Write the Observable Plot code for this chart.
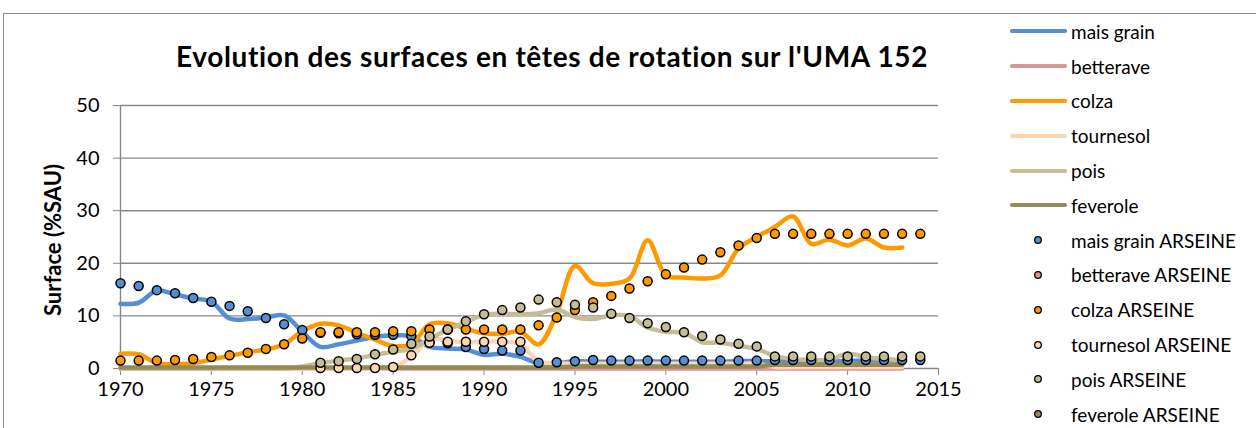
<!DOCTYPE html>
<html><head><meta charset="utf-8">
<script src="https://cdn.jsdelivr.net/npm/d3@7"></script>
<script src="https://cdn.jsdelivr.net/npm/@observablehq/plot@0.6"></script>
<style>
body{margin:0;background:#fff;font-family:Lato,sans-serif;}
#wrap{position:relative;width:1256px;height:428px;overflow:hidden;background:#fff;}
#frame{position:absolute;left:3px;top:13px;width:1400px;height:600px;border-left:1.5px solid #888;border-top:1.5px solid #888;}
#chart{position:absolute;left:0;top:0;}
#title{position:absolute;left:0;width:1104px;top:42px;text-align:center;font-weight:bold;font-size:28px;letter-spacing:0.65px;line-height:1;color:#000;white-space:nowrap;}
#ylab{position:absolute;left:-97px;top:228px;width:300px;height:24px;line-height:24px;text-align:center;font-weight:bold;font-size:22px;transform:rotate(-90deg);color:#000;}
#legend{position:absolute;left:1008px;top:14px;}
.row{display:flex;align-items:center;height:34.8px;font-size:19px;color:#000;white-space:nowrap;}
.row svg{margin-right:3px;}
</style>
</head><body>
<div id="wrap">
  <div id="frame"></div>
  <div id="chart"></div>
  <div id="title">Evolution des surfaces en têtes de rotation sur l'UMA 152</div>
  <div id="ylab">Surface (%SAU)</div>
  <div id="legend"></div>
</div>
<script>
// ---- data ----
const years = [1970,1971,1972,1973,1974,1975,1976,1977,1978,1979,
               1980,1981,1982,1983,1984,1985,1986,1987,1988,1989,
               1990,1991,1992,1993,1994,1995,1996,1997,1998,1999,
               2000,2001,2002,2003,2004,2005,2006,2007,2008,2009,
               2010,2011,2012,2013,2014];
const xTicks = [1970,1975,1980,1985,1990,1995,2000,2005,2010,2015];
const yTicks = [0,10,20,30,40,50];

const seriesNames = ["mais grain","betterave","colza","tournesol","pois","feverole"];
const seriesColors = ["#558ED5","#D99694","#FF9900","#FCD5B5","#C4BD97","#948A54"];

// observed lines (1970-2013)
const maisGrain = [12.3,12.5,14.8,14.1,13.3,12.7,9.5,9.4,9.7,10.1,
                   7.0,4.1,4.6,5.3,6.0,6.3,6.1,4.1,3.8,3.6,
                   2.6,2.8,2.2,1.0,1.0,1.4,1.3,1.3,1.3,1.4,
                   1.3,1.3,1.3,1.3,1.4,1.4,1.4,1.4,1.4,1.4,
                   1.4,1.5,1.5,1.5];
const betterave = [0,0,0,0,0,0,0,0,0,0, 0,0,0,0,0,0,0,0,0,0,
                   0,0,0,0,0,0,0,0,0,0, 0,0,0,0,0,0,0,0,0,0, 0,0,0,0];
const colza = [2.8,2.7,1.0,0.8,1.0,1.7,2.4,3.1,3.6,4.6,
               7.1,8.5,8.2,6.8,5.5,4.3,4.6,8.4,8.6,7.6,
               6.7,6.6,7.0,4.6,10.5,19.5,16.2,16.1,17.1,24.4,
               17.7,17.3,17.1,17.7,22.8,25.0,26.9,28.9,23.7,24.5,
               23.4,24.7,23.0,23.0];
const tournesol = [0,0,0,0,0,0,0,0,0,0,
                   0,0,0,0,0,0.3,2.2,5.6,5.3,5.0,
                   5.1,5.1,4.6,1.3,1.0,0.9,0.9,0.9,0.9,0.9,
                   0.9,0.9,0.9,0.9,0.9,0.9,0.3,0.3,0.3,0.3,
                   0.3,0.3,0.3,0.3];
const pois = [0,0,0,0,0,0,0,0,0,0,
              0.4,1.0,1.5,1.9,2.6,3.2,3.8,5.6,7.4,8.8,
              10.2,10.4,10.3,10.5,11.2,9.8,9.4,10.1,10.0,7.8,
              7.0,6.8,5.0,4.9,4.3,3.7,2.4,1.8,1.6,1.7,
              2.8,2.2,1.8,1.6];
const feverole = [0.2,0.2,0.2,0.2,0.2,0.2,0.2,0.2,0.2,0.2,
                  0.2,0.2,0.2,0.2,0.2,0.2,0.2,0.2,0.2,0.2,
                  0.2,0.2,0.2,0.2,0.2,0.4,0.4,0.4,0.4,0.4,
                  0.4,0.4,0.4,0.4,0.4,0.4,0.7,0.7,0.7,0.7,
                  0.7,0.7,0.7,0.7];

// ARSEINE simulated points (1970-2014)
const maisGrainA = [16.2,15.7,14.9,14.3,13.4,12.7,11.9,10.9,9.6,8.4,
                    7.3,6.8,6.7,6.5,6.4,6.4,6.2,5.0,4.8,4.1,
                    3.7,3.4,3.4,1.1,1.2,1.4,1.6,1.5,1.5,1.5,
                    1.5,1.5,1.5,1.5,1.5,1.5,1.6,1.6,1.6,1.6,
                    1.6,1.6,1.6,1.6,1.6];
const betteraveA = [];
const colzaA = [1.5,1.5,1.5,1.6,1.8,2.2,2.5,3.0,3.7,4.6,
                5.7,6.9,6.9,6.9,6.9,7.1,7.1,7.4,7.4,7.4,
                7.4,7.4,7.4,8.2,9.7,11.1,12.6,13.8,15.2,16.6,
                17.9,19.2,20.7,22.1,23.4,24.8,25.6,25.6,25.6,25.6,
                25.6,25.6,25.6,25.6,25.6];
const tournesolA = [null,null,null,null,null,null,null,null,null,null,
                    null,0.1,0.1,0.1,0.1,0.3,2.5,4.9,5.1,5.1,
                    5.1,5.1,5.1];
const poisA = [null,null,null,null,null,null,null,null,null,null,
               null,1.1,1.4,1.8,2.7,3.6,4.7,6.1,7.4,9.0,
               10.3,11.1,11.6,13.1,12.6,12.1,11.6,10.4,9.6,8.6,
               7.9,6.9,6.2,5.5,4.7,4.2,2.3,2.3,2.3,2.3,
               2.3,2.3,2.3,2.3,2.3];
const feveroleA = [];

// ---- build ----
const lineSeries = [maisGrain, betterave, colza, tournesol, pois, feverole];
const dotSeries = [maisGrainA, betteraveA, colzaA, tournesolA, poisA, feveroleA];
const toRows = arr => arr.map((v,i)=>({year: years[i], value: v})).filter(d => d.value != null);

const gray = "#878787";
const marks = [
  Plot.ruleY(yTicks.filter(v => v > 0), {stroke: gray, strokeWidth: 1.4}),
  Plot.ruleX([xTicks[0]], {stroke: gray, strokeWidth: 1.4}),
  Plot.ruleY([yTicks[0]], {stroke: gray, strokeWidth: 1.4}),
  Plot.axisX({ticks: xTicks, tickFormat: "d", tickSize: 7, tickPadding: 6, stroke: gray, fill: "#000", fontSize: 20, label: null}),
  Plot.axisY({ticks: yTicks, tickSize: 7, tickPadding: 14, stroke: gray, fill: "#000", fontSize: 20, label: null})
];
lineSeries.forEach((arr, k) => {
  marks.push(Plot.line(toRows(arr), {x: "year", y: "value", stroke: seriesColors[k], strokeWidth: 4.5,
    curve: "catmull-rom", strokeLinecap: "round", strokeLinejoin: "round"}));
});
dotSeries.forEach((arr, k) => {
  marks.push(Plot.dot(toRows(arr), {x: "year", y: "value", r: 4.5, fill: seriesColors[k], stroke: "#000", strokeWidth: 1.5}));
});

const chart = Plot.plot({
  width: 1256, height: 428,
  marginLeft: 120, marginRight: 318, marginTop: 105, marginBottom: 60,
  style: {fontFamily: "Lato, sans-serif", background: "transparent", color: "#000", overflow: "visible"},
  x: {domain: [xTicks[0], xTicks[xTicks.length-1]]},
  y: {domain: [yTicks[0], yTicks[yTicks.length-1]]},
  marks
});
document.getElementById("chart").appendChild(chart);

// legend
const legend = document.getElementById("legend");
const ns = "http://www.w3.org/2000/svg";
function addRow(label, color, kind) {
  const row = document.createElement("div");
  row.className = "row";
  const svg = document.createElementNS(ns, "svg");
  svg.setAttribute("width", 60); svg.setAttribute("height", 20);
  if (kind === "line") {
    const l = document.createElementNS(ns, "line");
    l.setAttribute("x1", 4); l.setAttribute("x2", 57); l.setAttribute("y1", 10); l.setAttribute("y2", 10);
    l.setAttribute("stroke", color); l.setAttribute("stroke-width", 4.2); l.setAttribute("stroke-linecap", "round");
    svg.appendChild(l);
  } else {
    const c = document.createElementNS(ns, "circle");
    c.setAttribute("cx", 30); c.setAttribute("cy", 10); c.setAttribute("r", 3.3);
    c.setAttribute("fill", color); c.setAttribute("stroke", "#000"); c.setAttribute("stroke-width", 1.3);
    svg.appendChild(c);
  }
  row.appendChild(svg);
  const span = document.createElement("span");
  span.textContent = label;
  row.appendChild(span);
  legend.appendChild(row);
}
seriesNames.forEach((n, k) => addRow(n, seriesColors[k], "line"));
seriesNames.forEach((n, k) => addRow(n + " ARSEINE", seriesColors[k], "dot"));
</script>
</body></html>
